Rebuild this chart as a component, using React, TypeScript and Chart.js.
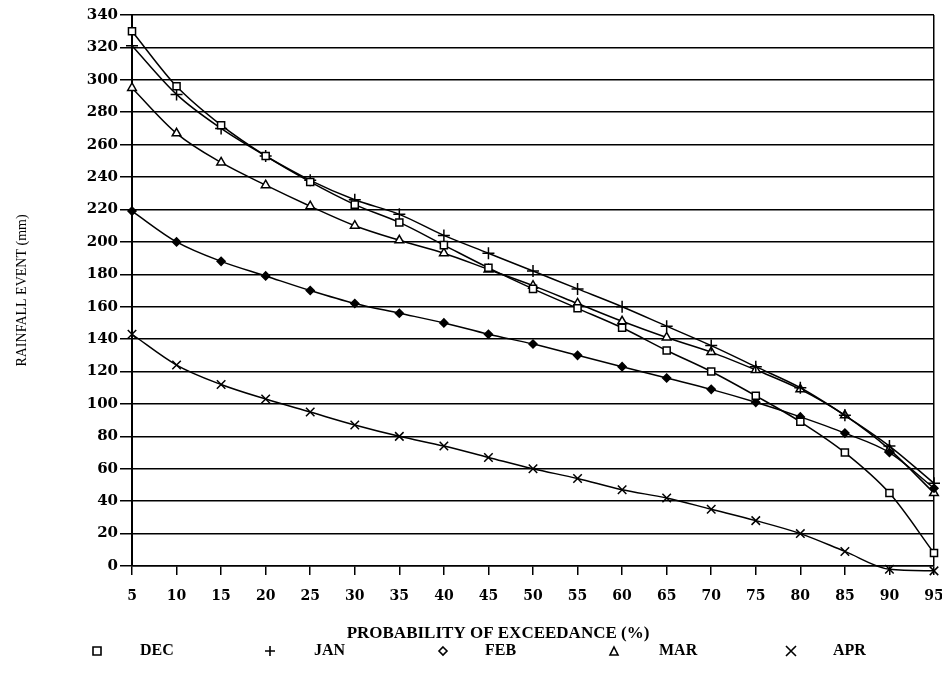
import React, { useEffect, useRef } from "react";
import { Chart, registerables } from "chart.js";

Chart.register(...registerables);

const probability = [5, 10, 15, 20, 25, 30, 35, 40, 45, 50, 55, 60, 65, 70, 75, 80, 85, 90, 95];
const decRain = [330, 296, 272, 253, 237, 223, 212, 198, 184, 171, 159, 147, 133, 120, 105, 89, 70, 45, 8];
const janRain = [321, 291, 270, 253, 238, 226, 217, 204, 193, 182, 171, 160, 148, 136, 123, 110, 93, 74, 51];
const febRain = [219, 200, 188, 179, 170, 162, 156, 150, 143, 137, 130, 123, 116, 109, 101, 92, 82, 70, 48];
const marRain = [295, 267, 249, 235, 222, 210, 201, 193, 183, 173, 162, 151, 141, 132, 121, 109, 93, 72, 45];
const aprRain = [143, 124, 112, 103, 95, 87, 80, 74, 67, 60, 54, 47, 42, 35, 28, 20, 9, -2, -3];

const seriesNames = ["DEC", "JAN", "FEB", "MAR", "APR"];
const xTitle = "PROBABILITY OF EXCEEDANCE (%)";
const yTitle = "RAINFALL EVENT (mm)";

const legendPlugin = {
  id: "scanLegend",
  afterDraw(chart: any) {
    const ctx = chart.ctx as CanvasRenderingContext2D;
    ctx.save();
    ctx.fillStyle = "#000";
    ctx.strokeStyle = "#000";
    ctx.textBaseline = "middle";
    // x axis title
    ctx.font = "bold 17px 'Liberation Serif'";
    ctx.textAlign = "center";
    ctx.fillText(xTitle, 498, 634);
    // legend
    const items = [
      { mx: 97, tx: 140, kind: "rect" },
      { mx: 270, tx: 314, kind: "plus" },
      { mx: 443, tx: 485, kind: "diamond" },
      { mx: 614, tx: 659, kind: "tri" },
      { mx: 791, tx: 833, kind: "x" },
    ];
    const y = 651;
    ctx.font = "bold 16px 'Liberation Serif'";
    ctx.textAlign = "left";
    ctx.lineWidth = 1.6;
    items.forEach((it, i) => {
      const x = it.mx;
      ctx.beginPath();
      if (it.kind === "rect") {
        ctx.rect(x - 4, y - 4, 8, 8);
      } else if (it.kind === "plus") {
        ctx.moveTo(x - 5, y); ctx.lineTo(x + 5, y);
        ctx.moveTo(x, y - 5); ctx.lineTo(x, y + 5);
      } else if (it.kind === "diamond") {
        ctx.moveTo(x, y - 4); ctx.lineTo(x + 4, y); ctx.lineTo(x, y + 4); ctx.lineTo(x - 4, y); ctx.closePath();
      } else if (it.kind === "tri") {
        ctx.moveTo(x, y - 4); ctx.lineTo(x + 4, y + 4); ctx.lineTo(x - 4, y + 4); ctx.closePath();
      } else {
        ctx.moveTo(x - 5, y - 5); ctx.lineTo(x + 5, y + 5);
        ctx.moveTo(x + 5, y - 5); ctx.lineTo(x - 5, y + 5);
      }
      ctx.stroke();
      ctx.fillText(seriesNames[i], it.tx, y);
    });
    ctx.restore();
  },
};

function makeData(values: number[]) {
  return probability.map((p, i) => ({ x: p, y: values[i] }));
}

export default function App() {
  const canvasRef = useRef<HTMLCanvasElement | null>(null);

  useEffect(() => {
    if (!canvasRef.current) return;
    const base = {
      borderColor: "#000",
      borderWidth: 1.5,
      cubicInterpolationMode: "monotone" as const,
      pointBorderColor: "#000",
      pointBorderWidth: 1.5,
      clip: false as any,
    };
    const chart = new Chart(canvasRef.current, {
      type: "line",
      data: {
        datasets: [
          { ...base, label: "DEC", data: makeData(decRain), pointStyle: "rect", pointRadius: 5, pointBackgroundColor: "#fff" },
          { ...base, label: "JAN", data: makeData(janRain), pointStyle: "cross", pointRadius: 6, pointBackgroundColor: "#000" },
          { ...base, label: "FEB", data: makeData(febRain), pointStyle: "rectRot", pointRadius: 4, pointBackgroundColor: "#000" },
          { ...base, label: "MAR", data: makeData(marRain), pointStyle: "triangle", pointRadius: 5, pointBackgroundColor: "#fff" },
          { ...base, label: "APR", data: makeData(aprRain), pointStyle: "crossRot", pointRadius: 6, pointBackgroundColor: "#000" },
        ],
      },
      options: {
        animation: false,
        responsive: true,
        maintainAspectRatio: false,
        layout: { padding: { left: 0, top: 15, right: 8, bottom: 0 }, autoPadding: false } as any,
        plugins: {
          legend: { display: false },
          tooltip: { enabled: false },
        },
        scales: {
          x: {
            type: "linear",
            min: 5,
            max: 95,
            afterFit: (s: any) => {
              s.height = 107;
              s.paddingLeft = 0;
              s.paddingRight = 0;
            },
            ticks: {
              stepSize: 5,
              autoSkip: false,
              maxRotation: 0,
              color: "#000",
              padding: 13,
              font: { family: "'DejaVu Serif'", weight: "bold", size: 14 },
            },
            grid: {
              drawOnChartArea: true,
              color: (c: any) => (c.tick && c.tick.value === 95 ? "#000" : "rgba(0,0,0,0)"),
              lineWidth: 1.5,
              tickColor: "#000",
              tickLength: 9,
            },
            border: { display: true, color: "#000", width: 1.5 },
          },
          y: {
            type: "linear",
            min: 0,
            max: 340,
            afterFit: (s: any) => {
              s.width = 132;
              s.paddingTop = 0;
              s.paddingBottom = 0;
            },
            ticks: {
              stepSize: 20,
              autoSkip: false,
              color: "#000",
              padding: 2,
              font: { family: "'DejaVu Serif'", weight: "bold", size: 15 },
            },
            grid: {
              color: "#000",
              lineWidth: 1.5,
              tickLength: 12,
            },
            border: { display: true, color: "#000", width: 2 },
            title: {
              display: true,
              text: yTitle,
              color: "#000",
              padding: { top: 14, bottom: 0 },
              font: { family: "'Liberation Serif'", size: 14 },
            },
          },
        },
      },
      plugins: [legendPlugin],
    });
    return () => chart.destroy();
  }, []);

  return (
    <div style={{ position: "fixed", left: 0, top: 0, width: 942, height: 673, background: "#fff" }}>
      <canvas ref={canvasRef} />
    </div>
  );
}
